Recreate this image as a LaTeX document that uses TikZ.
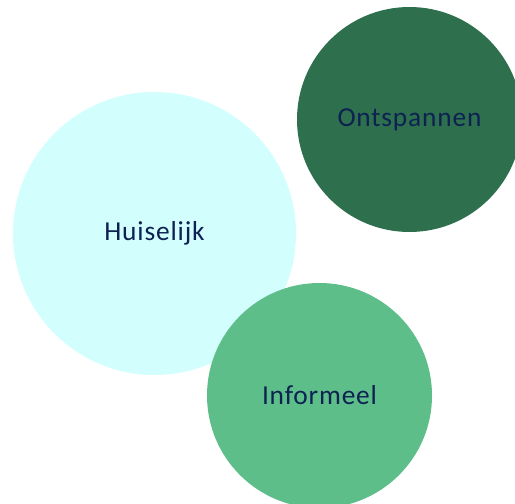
\documentclass[tikz,border=0pt]{standalone}
\usepackage{fontspec}
\setmainfont{Carlito}
\newfontfamily\bubblefont[LetterSpace=3]{Carlito}
\definecolor{huiscol}{HTML}{D3FEFE}
\definecolor{ontscol}{HTML}{2E6F4D}
\definecolor{infocol}{HTML}{5DBE89}
\definecolor{labelcol}{HTML}{0E2252}
\tikzset{bubble/.style={circle,inner sep=0pt,text=labelcol,
  font=\bubblefont\fontsize{27.5}{32}\selectfont}}
\begin{document}
\begin{tikzpicture}[x=1bp,y=-1bp]
\useasboundingbox (0,0) rectangle (515,504);
\clip (0,0) rectangle (515,504);
%\fill[white] (0,0) rectangle (515,504);
\node[bubble,fill=huiscol,minimum size=283bp] (huiselijk) at (154.5,233.5) {Huiselijk}; % edit here for the big one
\node[bubble,fill=ontscol,minimum size=225bp] (ontspannen) at (409.5,119.5) {Ontspannen};
\node[bubble,fill=infocol,minimum size=225bp] (informeel) at (319.5,395.5) {Informeel};
\end{tikzpicture}
\end{document}
